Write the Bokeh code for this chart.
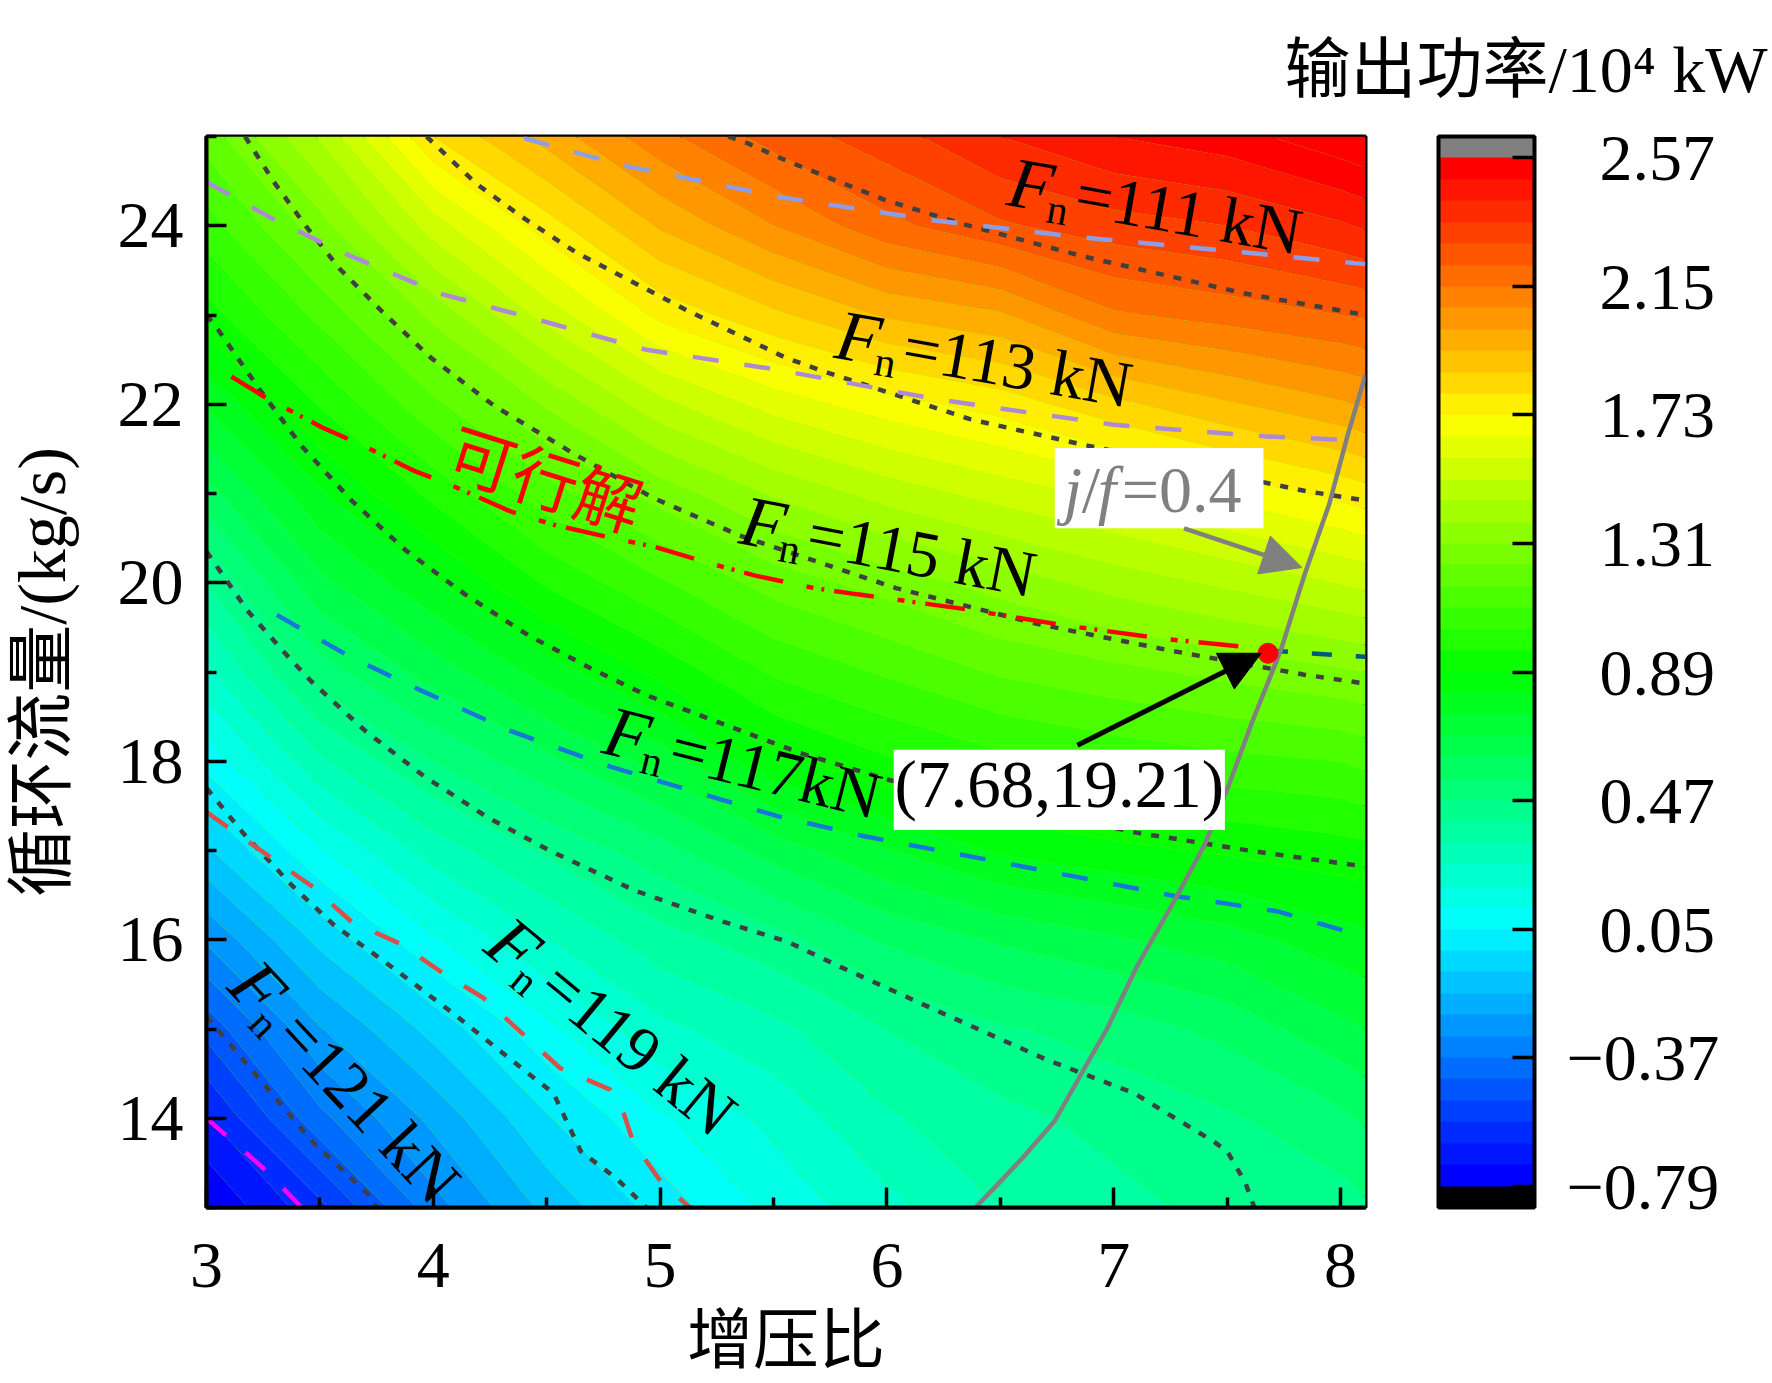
import numpy as np
from bokeh.embed import file_html
from bokeh.resources import INLINE
from bokeh.plotting import figure
from bokeh.models import (Label, Arrow, NormalHead, BoxAnnotation, ColorBar, LinearColorMapper,
                          FixedTicker, Title)

SERIF = "Liberation Serif"
MIXED = "Liberation Serif, Noto Sans CJK SC"

# ---- field (power, 10^4 kW) ----
grid_x = [3, 3.5, 4, 4.5, 5, 5.5, 6, 6.5, 7, 7.5, 8, 8.11]
grid_y = [13, 14, 15, 16, 17, 18, 19, 20, 21, 22, 23, 24, 25]
col_300 = [-.79, -.657, -.486, -.289, -.10, .073, .24, .40, .58, .76, .93, 1.07, 1.20]
col_350 = [-.60, -.39, -.235, -.07, .11, .316, .508, .66, .81, .966, 1.12, 1.28, 1.46]
col_400 = [-.33, -.21, -.066, .11, .29, .47, .64, .81, .98, 1.154, 1.33, 1.558, 1.80]
col_450 = [-.14, -.027, .10, .255, .41, .59, .78, .97, 1.14, 1.32, 1.55, 1.77, 1.97]
col_500 = [.01, .11, .24, .37, .51, .71, .91, 1.09, 1.27, 1.50, 1.75, 1.95, 2.13]
col_550 = [.14, .21, .31, .44, .64, .87, 1.04, 1.20, 1.39, 1.62, 1.855, 2.08, 2.25]
col_600 = [.24, .32, .40, .55, .745, .95, 1.11, 1.27, 1.48, 1.70, 1.95, 2.20, 2.33]
col_650 = [.33, .38, .46, .62, .83, 1.01, 1.18, 1.34, 1.55, 1.76, 2.00, 2.28, 2.43]
col_700 = [.38, .42, .50, .67, .87, 1.05, 1.22, 1.41, 1.61, 1.85, 2.14, 2.33, 2.50]
col_750 = [.42, .46, .56, .72, .90, 1.08, 1.26, 1.465, 1.68, 1.93, 2.18, 2.36, 2.54]
col_800 = [.44, .52, .66, .79, .93, 1.10, 1.30, 1.525, 1.75, 2.00, 2.22, 2.42, 2.62]
col_811 = [.46, .55, .68, .80, .94, 1.12, 1.31, 1.54, 1.77, 2.02, 2.23, 2.44, 2.64]
columns = [col_300, col_350, col_400, col_450, col_500, col_550, col_600, col_650, col_700, col_750, col_800, col_811]

# ---- thrust and constraint lines ----
dot1_x = [5.30, 5.39, 5.555, 5.99, 6.32, 6.86, 7.58, 8.11]
dot1_y = [25, 24.92, 24.73, 24.29, 24.03, 23.66, 23.24, 23.00]
dot2_x = [3.97, 4.19, 4.39, 4.63, 5.12, 5.555, 5.72, 6.37, 6.86, 7.84, 8.11]
dot2_y = [25, 24.47, 24.10, 23.70, 23.05, 22.52, 22.37, 21.83, 21.55, 21.03, 20.92]
dot3_x = [3.17, 3.30, 3.44, 3.59, 3.77, 3.99, 4.27, 4.63, 4.97, 5.35, 6.04, 6.66, 7.25, 7.84, 8.11]
dot3_y = [25, 24.48, 23.99, 23.51, 23.05, 22.52, 21.98, 21.43, 20.95, 20.53, 19.94, 19.54, 19.24, 18.97, 18.87]
dot4_x = [3.0, 3.05, 3.23, 3.42, 3.64, 3.88, 4.14, 4.42, 4.71, 4.94, 5.40, 5.62, 6.01, 7.10, 7.62, 8.11]
dot4_y = [23.0, 22.84, 22.18, 21.53, 20.92, 20.36, 19.87, 19.41, 19.02, 18.74, 18.30, 18.09, 17.79, 17.20, 16.99, 16.82]
dot5_x = [3.0, 3.18, 3.35, 3.46, 3.70, 3.96, 4.24, 4.52, 4.89, 5.28, 5.56, 5.80, 6.26, 6.70, 7.09, 7.44, 7.50, 7.58, 7.62]
dot5_y = [20.35, 19.69, 19.20, 18.90, 18.34, 17.83, 17.37, 16.99, 16.55, 16.20, 15.98, 15.69, 15.16, 14.66, 14.28, 13.74, 13.63, 13.28, 13.0]
dot6_x = [3.0, 3.16, 3.38, 3.56, 3.83, 4.09, 4.40, 4.53, 4.60, 4.65, 4.81, 4.94]
dot6_y = [17.70, 17.20, 16.60, 16.17, 15.67, 15.17, 14.54, 14.28, 13.90, 13.63, 13.32, 13.0]
dot7_x = [3.0, 3.21, 3.47, 3.72, 3.75]
dot7_y = [15.14, 14.51, 13.73, 13.13, 13.0]

fn111_x = [4.40, 4.83, 5.28, 5.555, 6.21, 6.86, 7.58, 8.11]
fn111_y = [24.98, 24.68, 24.45, 24.31, 24.06, 23.87, 23.70, 23.57]
fn113_x = [3.0, 3.29, 3.60, 4.03, 4.47, 4.94, 5.51, 6.21, 7.0, 7.67, 8.03]
fn113_y = [24.49, 24.08, 23.70, 23.24, 22.94, 22.61, 22.39, 22.06, 21.77, 21.64, 21.60]
fn117_x = [3.31, 3.64, 3.94, 4.34, 4.78, 5.23, 5.51, 5.90, 6.58, 7.27, 7.72, 8.06]
fn117_y = [19.64, 19.16, 18.80, 18.34, 17.94, 17.60, 17.39, 17.16, 16.83, 16.49, 16.32, 16.07]
fn119_x = [3.0, 3.29, 3.47, 3.64, 3.85, 4.04, 4.22, 4.56, 4.78, 4.84, 4.88, 5.0, 5.13]
fn119_y = [17.43, 16.91, 16.59, 16.20, 15.96, 15.63, 15.35, 14.56, 14.32, 14.05, 13.74, 13.30, 13.0]
fn121_x = [3.0, 3.26, 3.42]
fn121_y = [14.0, 13.42, 13.0]
feasible_x = [3.11, 3.27, 3.51, 3.68, 3.91, 4.10, 4.34, 4.53, 4.79, 4.98, 5.23, 5.42, 5.68, 5.87, 6.33, 6.79, 7.23, 7.66]
feasible_y = [22.31, 22.06, 21.74, 21.55, 21.26, 21.07, 20.80, 20.65, 20.50, 20.40, 20.21, 20.08, 19.94, 19.87, 19.71, 19.52, 19.37, 19.26]
fn115_x = [7.68, 8.11]
fn115_y = [19.24, 19.17]
jf_x = [6.39, 6.50, 6.61, 6.74, 6.86, 6.97, 7.10, 7.27, 7.40, 7.51, 7.61, 7.70, 7.74, 7.84, 7.95, 8.03, 8.11]
jf_y = [13.0, 13.29, 13.59, 13.97, 14.51, 15.0, 15.69, 16.45, 17.06, 17.75, 18.44, 19.01, 19.27, 20.08, 20.88, 21.64, 22.33]
opt_x = [7.68]
opt_y = [19.21]

x_ticks = [3, 4, 5, 6, 7, 8]
x_minor = [3.5, 4.5, 5.5, 6.5, 7.5]
y_ticks = [14, 16, 18, 20, 22, 24]
y_minor = [13, 15, 17, 19, 21, 23, 25]
cb_ticks = [-0.79, -0.37, 0.05, 0.47, 0.89, 1.31, 1.73, 2.15, 2.57]
cb_labels = ["\u22120.79", "\u22120.37", "\u00a0\u00a00.05", "\u00a0\u00a00.47", "\u00a0\u00a00.89",
             "\u00a0\u00a01.31", "\u00a0\u00a01.73", "\u00a0\u00a02.15", "\u00a0\u00a02.57"]
cb_title = "输出功率/10\u2074 kW"
x_range = (3, 8.11)
y_range = (13, 25)
level_step = 0.07
level_low = -0.79
n_bands = 48
cb_range = (-0.86, 2.64)


def band_colours(n):
    stops = np.array([[0, 0, 255], [0, 255, 255], [0, 255, 0], [255, 255, 0], [255, 0, 0]], float)
    t = np.linspace(0, 4, n)
    out = []
    for v in t:
        i = min(int(v), 3)
        c = stops[i] + (stops[i + 1] - stops[i]) * (v - i)
        out.append("#%02x%02x%02x" % tuple(int(round(k)) for k in c))
    return out


palette = band_colours(n_bands)
levels = [level_low + level_step * i for i in range(n_bands + 1)] + [2.8]

W, H = 1772, 1383
L, R, T, B = 205, 407, 136, 176
p = figure(width=W, height=H, x_range=x_range, y_range=y_range, output_backend="svg", title=None,
           toolbar_location=None, min_border_left=L, min_border_right=R, min_border_top=T,
           min_border_bottom=B, background_fill_color="#80ff00", border_fill_color="white")
p.grid.visible = False
p.outline_line_color = "black"
p.outline_line_width = 4

z = np.array(columns).T
p.contour(grid_x, grid_y, z, levels, fill_color=palette + [palette[-1]], line_color=None)


def dline(xs, ys, color, dash, w=4.5):
    p.line(xs, ys, line_color=color, line_dash=dash, line_width=w)


DOT = "#404040"
for xs, ys in [(dot1_x, dot1_y), (dot2_x, dot2_y), (dot3_x, dot3_y), (dot4_x, dot4_y),
               (dot5_x, dot5_y), (dot6_x, dot6_y), (dot7_x, dot7_y)]:
    dline(xs, ys, DOT, "8 10", 4.5)
dline(fn111_x, fn111_y, "#8c9ee6", "26 26")
dline(fn113_x, fn113_y, "#ad8ad6", "26 26")
dline(fn117_x, fn117_y, "#1878d8", "26 26")
dline(fn119_x, fn119_y, "#d85048", "26 26")
dline(fn121_x, fn121_y, "#ff00ff", "26 26")
dline(fn115_x, fn115_y, "#005a80", "20 24")
dline(feasible_x, feasible_y, "#ff0000", "40 24 7 8 3 10", 4.5)
p.line(jf_x, jf_y, line_color="#808080", line_width=4.5)

# axes
for ax, ticks, minor in [(p.xaxis[0], x_ticks, x_minor), (p.yaxis[0], y_ticks, y_minor)]:
    ax.ticker = FixedTicker(ticks=ticks, minor_ticks=minor)
    ax.axis_line_color = "black"
    ax.axis_line_width = 4
    ax.major_tick_line_width = 3.5
    ax.minor_tick_line_width = 3.5
    ax.major_tick_in = 20
    ax.major_tick_out = 0
    ax.minor_tick_in = 10
    ax.minor_tick_out = 0
    ax.major_label_text_font = SERIF
    ax.major_label_text_font_size = "66px"
    ax.major_label_text_color = "black"
    ax.axis_label_text_font = MIXED
    ax.axis_label_text_font_size = "66px"
    ax.axis_label_text_font_style = "normal"
    ax.axis_label_text_color = "black"
p.xaxis[0].axis_label = "增压比"
p.yaxis[0].axis_label = "循环流量/(kg/s)"
p.yaxis[0].axis_label_text_font_size = "68px"
p.xaxis[0].major_label_standoff = 36
p.xaxis[0].axis_label_standoff = 14
p.yaxis[0].major_label_standoff = 23
p.yaxis[0].axis_label_standoff = 35

# colour bar
mapper = LinearColorMapper(palette=["#000000"] + palette + ["#808080"], low=cb_range[0], high=cb_range[1])
cb = ColorBar(color_mapper=mapper, ticker=FixedTicker(ticks=cb_ticks),
              major_label_overrides=dict(zip(cb_ticks, cb_labels)),
              width=96, height=1071, margin=0, padding=0, location=(1232, 0),
              bar_line_color="black", bar_line_width=4, major_tick_line_color="black",
              major_tick_line_width=3.5, major_tick_in=22, major_tick_out=0,
              minor_tick_line_color=None, border_line_color=None, background_fill_color=None,
              major_label_text_font=SERIF, major_label_text_font_size="66px",
              major_label_text_color="black", label_standoff=32)
p.add_layout(cb)

p.add_layout(Title(text=cb_title, align="left", offset=1078, standoff=60, vertical_align="middle",
                   text_font=MIXED, text_font_size="66px", text_font_style="normal", text_color="black"), "above")

# white boxes, arrows, marker
for l, r, b, t in [(6.03, 7.49, 17.23, 18.13), (6.74, 7.66, 20.61, 21.51)]:
    p.add_layout(BoxAnnotation(left=l, right=r, bottom=b, top=t, fill_color="white", fill_alpha=1,
                               line_color=None, level="overlay"))
p.add_layout(Arrow(x_start=6.84, y_start=18.18, x_end=7.65, y_end=19.21, line_color="black", line_width=5,
                   end=NormalHead(size=40, fill_color="black", line_color="black", line_width=1), level="overlay"))
p.add_layout(Arrow(x_start=7.31, y_start=20.61, x_end=7.83, y_end=20.17, line_color="#808080", line_width=4.5,
                   end=NormalHead(size=40, fill_color="#808080", line_color="#808080", line_width=1), level="overlay"))
p.scatter(opt_x, opt_y, size=20, color="#ff0000", marker="circle")


def text(x, y, s, size=66, style="normal", color="black", angle=0.0, dx=0.0, dy=0.0, font=SERIF,
         align="left", base="alphabetic"):
    a = np.radians(angle)
    p.add_layout(Label(x=x, y=y, text=s, text_font=font, text_font_size=f"{size}px", text_font_style=style,
                       text_color=color, angle=a, text_align=align, text_baseline=base,
                       x_offset=dx * np.cos(a) + dy * np.sin(a), y_offset=dx * np.sin(a) - dy * np.cos(a),
                       level="overlay"))


def fn_label(x, y, angle, tail):
    text(x, y, "F", size=72, style="italic", angle=angle)
    text(x, y, "n", size=42, angle=angle, dx=42, dy=20)
    text(x, y, tail, angle=angle, dx=68)


fn_label(6.54, 24.50, -10, "=111 kN")
fn_label(5.78, 22.79, -10, "=113 kN")
fn_label(5.36, 20.71, -10.8, "=115 kN")
fn_label(4.76, 18.36, -14, "=117kN")
fn_label(4.28, 16.09, -39.5, "=119 kN")
fn_label(3.16, 15.64, -47, "=121 kN")

text(4.50, 21.20, "可行解", size=66, color="#ff0000", angle=-17.5, font="Noto Sans CJK SC", align="center", base="middle")
text(6.76, 17.74, "(7.68,19.21)", size=67, align="center", base="middle")

GREY = "#808080"
text(6.78, 21.05, "j", style="italic", color=GREY)
text(6.78, 21.05, "/", color=GREY, dx=18)
text(6.78, 21.05, "f", style="italic", color=GREY, dx=34)
text(6.78, 21.05, "=0.4", color=GREY, dx=58)

open("out.html", "w").write(file_html(p, INLINE))
